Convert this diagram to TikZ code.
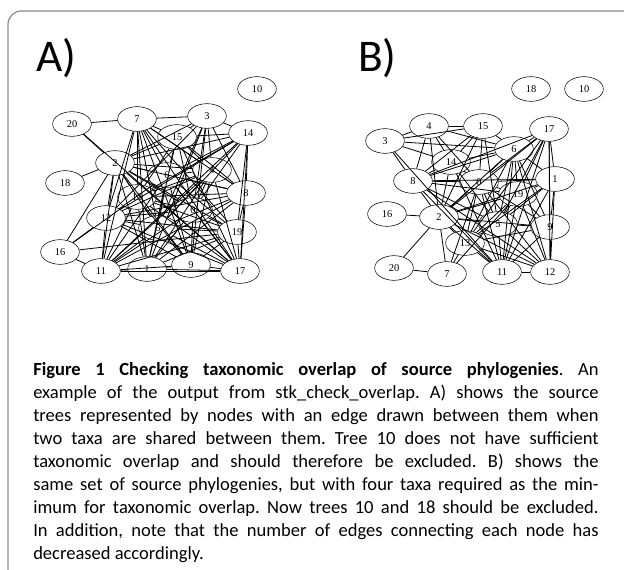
\documentclass[tikz,border=0pt]{standalone}
\usepackage{fontspec}
\usepackage{tikz}
\usetikzlibrary{shapes.geometric}
\newfontfamily\capfont{Carlito}
\newfontfamily\numfont{Liberation Serif}
\definecolor{framegray}{HTML}{8A8A8A}

\begin{document}
\begin{tikzpicture}[x=0.75pt, y=-0.75pt,
  tree/.style={draw, ellipse, minimum width=29pt, minimum height=18.5pt, inner sep=0pt,
               font=\numfont\fontsize{7.8}{8}\selectfont},
  link/.style={line width=0.6pt},
  panel/.style={anchor=base west, inner sep=0pt, font=\capfont\fontsize{34}{38}\selectfont}
]
  \useasboundingbox (0,0) rectangle (624,570);
  \draw[framegray, line width=0.9pt, rounded corners=10pt] (640,11) -- (8,11) -- (8,582) -- (30,582);
  \node[panel] (labA) at (36,72) {A)};
  \node[panel] (labB) at (358,72) {B)};
  % A) trees with two shared taxa
  \foreach \n/\x/\y in {10/257/89, 20/72/124, 7/137/119, 3/207/116, 15/177/137, 14/248/133,
      2/115/163, 18/65/183, 4/212/170, 6/167/175, 8/246/193, 13/137/197, 0/193/210,
      12/106/218, 5/158/228, 19/237/232, 16/60/252, 11/101/271, 1/147/269, 9/191/265, 17/240/271}
    \node[tree] (a\n) at (\x,\y) {\n};
  \foreach \u/\v in {20/7, 20/2, 20/17, 7/3, 18/2, 16/12, 16/11, 16/13, 16/19, 16/2,
      3/14, 3/15, 3/4, 3/8, 3/1, 3/9, 3/5, 3/0, 3/2, 3/12,
      14/8, 14/17, 14/19, 14/2, 14/15, 14/12, 14/11, 14/0, 14/6, 14/5, 14/13,
      7/11, 7/12, 7/17, 7/19, 7/1, 7/5, 7/9, 7/6, 7/8, 7/4, 7/13, 7/15,
      2/11, 2/17, 2/9, 2/19, 2/8, 2/4, 2/6, 2/15, 2/0, 2/1, 2/5, 2/12, 2/13,
      15/6, 15/4, 15/8, 15/0, 15/1, 15/17, 15/13,
      8/17, 8/19, 8/13, 8/11, 8/6, 8/12, 8/4, 8/1, 8/5,
      19/17, 19/12, 19/13, 19/11, 19/0, 19/6, 19/1, 19/9, 19/5,
      17/12, 17/13, 17/4, 17/6, 17/5, 17/0, 17/9, 17/1, 17/11,
      11/1, 11/9, 11/12, 11/13, 11/0, 11/4, 11/6, 11/5,
      12/0, 12/4, 12/6, 12/9, 12/5, 1/9, 1/4, 1/6, 1/13, 1/0,
      9/4, 9/13, 9/6, 9/0, 9/5, 5/6, 5/4, 5/13, 0/4, 0/6, 0/13, 6/4, 6/13, 13/4}
    \draw[link] (a\u) -- (a\v);
  % B) trees with four shared taxa
  \foreach \n/\x/\y in {18/531/89, 10/584/89, 4/429/126, 15/483/126, 3/385/141, 17/549/129,
      6/514/149, 14/451/162, 8/413/181, 0/479/182, 1/555/179, 19/518/194, 16/387/214,
      2/439/217, 5/498/224, 9/550/227, 13/465/243, 20/394/268, 7/447/274, 11/502/272, 12/550/272}
    \node[tree] (b\n) at (\x,\y) {\n};
  \foreach \u/\v in {16/2, 20/2, 20/7, 3/4, 3/8, 3/14, 3/11, 3/15, 3/6,
      4/15, 4/8, 4/14, 4/2, 4/6, 4/0, 15/6, 15/14, 15/8, 15/0, 15/2, 15/5,
      14/8, 14/6, 14/2, 14/0, 14/5, 14/11,
      17/2, 17/6, 17/1, 17/12, 17/9, 17/11, 17/13, 17/5, 17/19, 17/0, 17/8,
      6/8, 6/2, 6/0, 6/19, 6/5, 6/11, 6/12, 6/9, 6/1, 6/13,
      1/12, 1/9, 1/11, 1/2, 1/8, 1/0, 1/13, 1/5, 1/19,
      8/0, 8/2, 8/19, 8/5, 8/11, 8/12, 0/2, 0/19, 0/5, 0/11, 0/12, 0/9, 0/13,
      19/2, 19/5, 19/11, 19/12, 19/9, 19/13, 19/7, 2/5, 2/9, 2/11, 2/12, 2/13, 2/7,
      5/9, 5/11, 5/12, 5/13, 9/12, 9/11, 9/13, 13/7, 13/11, 13/12, 7/0, 11/12}
    \draw[link] (b\u) -- (b\v);
  \node[anchor=north west, inner sep=0pt, text width=424pt, align=justify,
        font=\capfont\fontsize{13.9}{17.3}\selectfont\frenchspacing] (caption) at (33,362)
    {\textbf{Figure 1 Checking taxonomic overlap of source phylogenies}. An\linebreak
     example of the output from stk\_check\_overlap. A) shows the source\linebreak
     trees represented by nodes with an edge drawn between them when\linebreak
     two taxa are shared between them. Tree 10 does not have sufficient\linebreak
     taxonomic overlap and should therefore be excluded. B) shows the\linebreak
     same set of source phylogenies, but with four taxa required as the min-\linebreak
     imum for taxonomic overlap. Now trees 10 and 18 should be excluded.\linebreak
     In addition, note that the number of edges connecting each node has\linebreak
     decreased accordingly.};
\end{tikzpicture}
\end{document}
